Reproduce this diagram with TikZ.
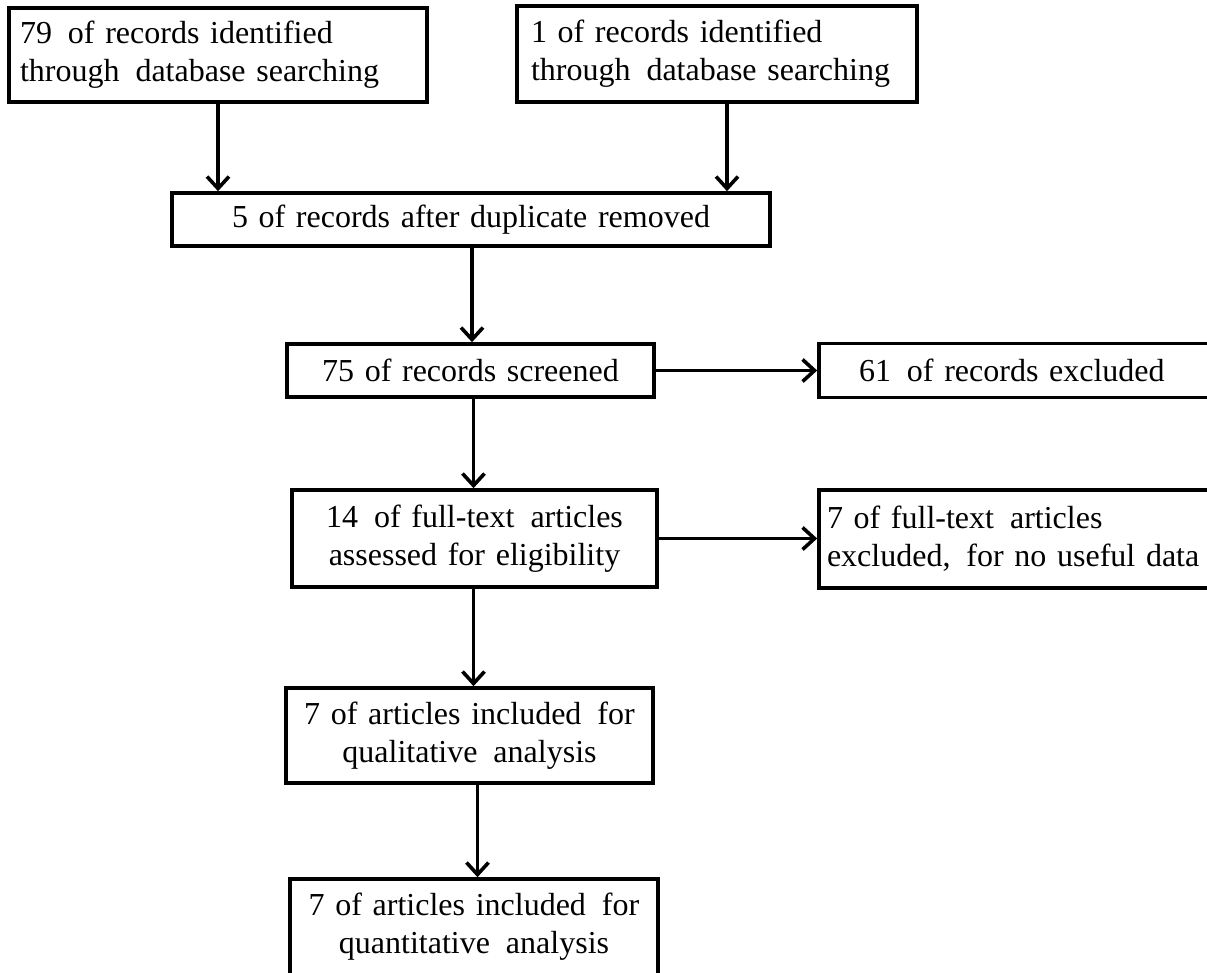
\documentclass[tikz,border=0pt]{standalone}
\usepackage{fontspec}
\setmainfont{Liberation Serif}
\usetikzlibrary{arrows.meta}
\begin{document}
\begin{tikzpicture}[x=1pt,y=-1pt,
  box/.style={draw=black, line width=3.6pt, rectangle, inner ysep=0pt,
    font=\fontsize{32}{38}\selectfont},
  arr/.style={line width=3.6pt, -{Straight Barb[length=12pt,width=22pt,line width=3.6pt]}}]
\useasboundingbox (0,0) rectangle (1207,972);
\clip (0,0) rectangle (1207,972);
\node[box, minimum width=418pt, minimum height=94pt, text width=396pt, inner xsep=11pt, align=left] (b1) at (218,55) {79\, of records identified\\through\, database searching};
\node[box, minimum width=400pt, minimum height=96pt, text width=372pt, inner xsep=14pt, align=left] (b2) at (717,54) {1 of records identified\\through\, database searching};
\node[box, minimum width=598pt, minimum height=53pt, text width=578pt, inner xsep=10pt, align=center] (b3) at (471,219.5) {5 of records after duplicate removed};
\node[box, minimum width=367pt, minimum height=53pt, text width=347pt, inner xsep=10pt, align=center] (b4) at (470.5,370.5) {75 of records screened};
\node[box, minimum width=471pt, minimum height=54pt, text width=391pt, inner xsep=40pt, align=left] (b5) at (1054.5,370.5) {61\, of records excluded};
\node[box, minimum width=365pt, minimum height=97pt, text width=345pt, inner xsep=10pt, align=center] (b6) at (474.5,538.5) {14\, of full-text\, articles\\assessed for eligibility};
\node[box, minimum width=471pt, minimum height=98pt, text width=455pt, inner xsep=7pt, align=left] (b7) at (1054.5,539) {7 of full-text\, articles\\excluded,\, for no useful data};
\node[box, minimum width=367pt, minimum height=95pt, text width=347pt, inner xsep=10pt, align=center] (b8) at (469.5,735.5) {7 of articles included\, for\\qualitative\, analysis};
\node[box, minimum width=368pt, minimum height=96pt, text width=348pt, inner xsep=10pt, align=center] (b9) at (474,927) {7 of articles included\, for\\quantitative\, analysis};
\draw[arr] (b1.south) -- (b1.south |- b3.north);
\draw[arr] ([xshift=10pt]b2.south) -- ([xshift=10pt]b2.south |- b3.north);
\draw[arr] ([xshift=1pt]b3.south) -- ([xshift=1pt]b3.south |- b4.north);
\draw[arr] (b4.east) -- (b4.east -| b5.west);
\draw[arr] ([xshift=3pt]b4.south) -- ([xshift=3pt]b4.south |- b6.north);
\draw[arr] (b6.east) -- (b6.east -| b7.west);
\draw[arr] ([xshift=-1pt]b6.south) -- ([xshift=-1pt]b6.south |- b8.north);
\draw[arr] ([xshift=8pt]b8.south) -- ([xshift=8pt]b8.south |- b9.north);
\end{tikzpicture}
\end{document}
